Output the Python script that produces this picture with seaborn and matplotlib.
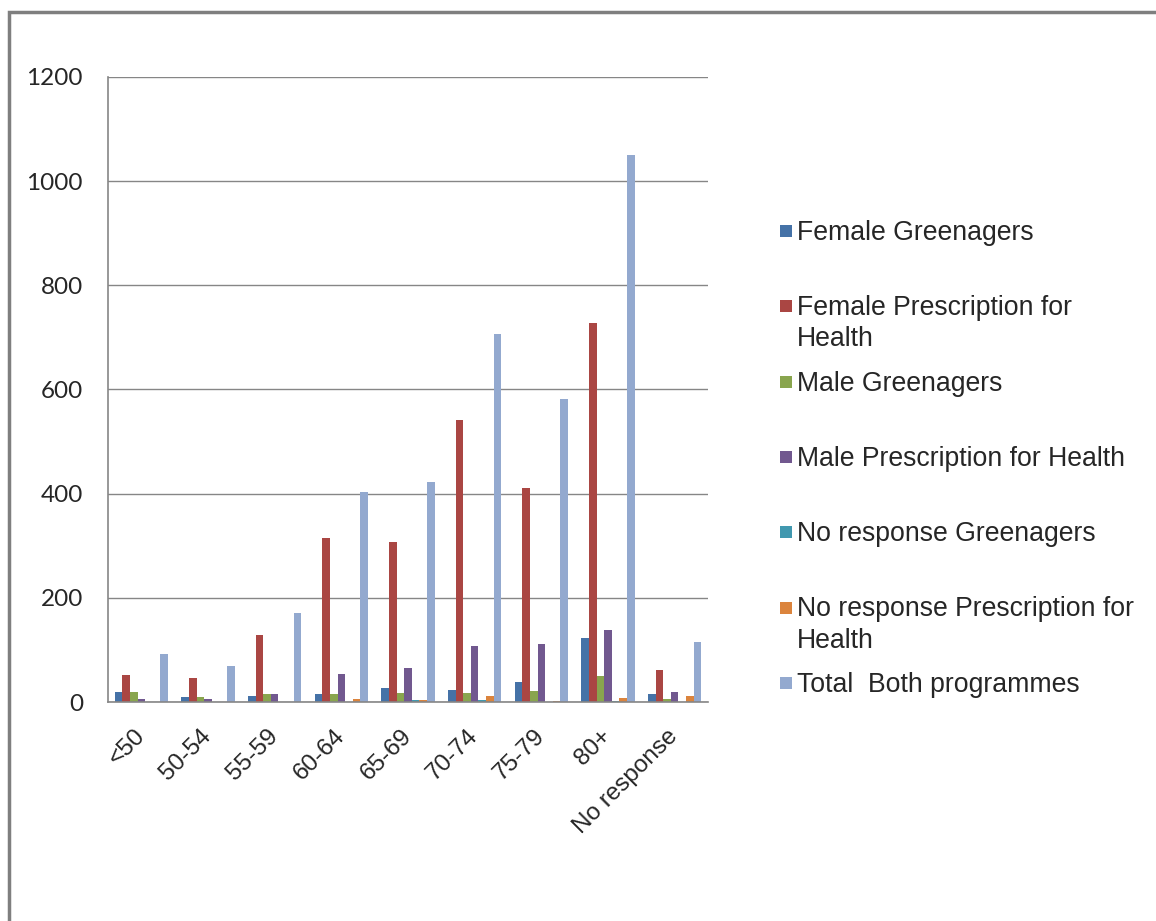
import pandas as pd
import matplotlib.pyplot as plt
import matplotlib.patches as mpatches
import seaborn as sns

# Age groups (x categories)
age_groups = ["<50", "50-54", "55-59", "60-64", "65-69", "70-74", "75-79", "80+", "No response"]

# Series values
female_greenagers = [19, 10, 12, 15, 27, 24, 39, 123, 15]
female_p4h = [51, 47, 128, 315, 307, 541, 411, 728, 61]
male_greenagers = [19, 10, 15, 15, 17, 17, 22, 49, 5]
male_p4h = [5, 5, 15, 54, 66, 108, 111, 138, 20]
noresp_greenagers = [0, 0, 0, 0, 3, 3, 0, 2, 0]
noresp_p4h = [0, 0, 0, 5, 3, 12, 2, 7, 12]
total_both = [93, 70, 170, 404, 423, 706, 582, 1050, 115]

series_names = ["Female Greenagers", "Female Prescription for Health", "Male Greenagers",
                "Male Prescription for Health", "No response Greenagers",
                "No response Prescription for Health", "Total  Both programmes"]
legend_labels = ["Female Greenagers", "Female Prescription for\nHealth", "Male Greenagers",
                 "Male Prescription for Health", "No response Greenagers",
                 "No response Prescription for\nHealth", "Total  Both programmes"]
colors = ["#4572A7", "#AA4643", "#89A54E", "#71588F", "#4198AF", "#DB843D", "#93A9CF"]

series_values = [female_greenagers, female_p4h, male_greenagers, male_p4h,
                 noresp_greenagers, noresp_p4h, total_both]

rows = []
for name, vals in zip(series_names, series_values):
    for grp, v in zip(age_groups, vals):
        rows.append({"age": grp, "series": name, "count": v})
df = pd.DataFrame(rows)

sns.set_style("white")
plt.rcParams['font.family'] = ['Liberation Sans', 'DejaVu Sans']

fig = plt.figure(figsize=(11.56, 9.21), dpi=100)
ax = fig.add_axes([108 / 1156, 1 - 702 / 921, 600 / 1156, 625 / 921])

sns.barplot(data=df, x="age", y="count", hue="series", order=age_groups,
            hue_order=series_names, palette=colors, width=0.8, ax=ax,
            legend=False, saturation=1, edgecolor="none")

grid_c = "#868686"
ax.set_ylim(0, 1200)
ax.set_yticks(range(0, 1201, 200))
ax.set_xlim(-0.5, len(age_groups) - 0.5)
ax.yaxis.grid(True, color=grid_c, linewidth=1)
ax.set_axisbelow(True)
for s in ["top", "right"]:
    ax.spines[s].set_visible(False)
for s in ["left", "bottom"]:
    ax.spines[s].set_color(grid_c)
    ax.spines[s].set_linewidth(1.2)

ax.set_xlabel("")
ax.set_ylabel("")
ax.tick_params(axis="y", length=5.5, color=grid_c, width=1, pad=12.5)
ax.set_yticklabels([str(v) for v in range(0, 1201, 200)], fontfamily="Lato", fontsize=17.5)
ax.set_xticks([i + 0.5 for i in range(-1, len(age_groups))], minor=True)
ax.tick_params(axis="x", which="minor", length=5.5, color=grid_c, width=1)
ax.tick_params(axis="x", which="major", length=0, pad=22)
ax.set_xticks(range(len(age_groups)))
ax.set_xticklabels(age_groups, fontfamily="Liberation Sans", fontsize=17.5,
                   rotation=45, ha="right", va="center", rotation_mode="anchor")

# legend drawn as in the original (square marker beside first text line)
y0 = 231
for i, (lab, c) in enumerate(zip(legend_labels, colors)):
    yc = y0 + i * 75.3
    fig.patches.append(mpatches.Rectangle((780 / 1156, 1 - (yc + 6) / 921), 12 / 1156, 12 / 921,
                                          transform=fig.transFigure, facecolor=c, edgecolor="none"))
    fig.text(797 / 1156, 1 - (yc - 11) / 921, lab, fontsize=19.2, va="top", ha="left",
             linespacing=1.25)

# chart area frame
fig.patches.append(mpatches.Rectangle((9 / 1156, -0.05), 1.1, 1 - 12 / 921 + 0.05,
                                      transform=fig.transFigure, fill=False,
                                      edgecolor="#7f7f7f", linewidth=2.5))

fig.savefig("out.png", dpi=100)
